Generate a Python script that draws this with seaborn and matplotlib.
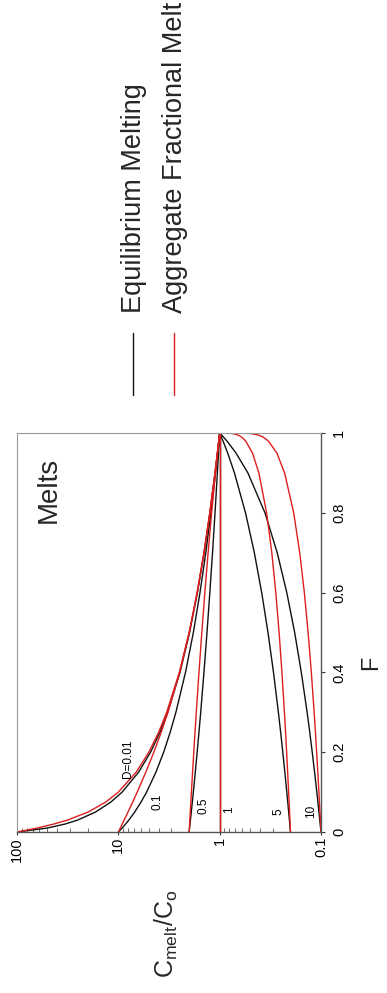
import matplotlib
matplotlib.use("Agg")
import matplotlib.pyplot as plt
from matplotlib.lines import Line2D
from matplotlib.ticker import LogLocator, NullFormatter
import pandas as pd
import seaborn as sns

# ---------------- data ----------------
F = [0, 0.01, 0.02, 0.03, 0.05, 0.075, 0.1, 0.15, 0.2, 0.25, 0.3, 0.4, 0.5,
     0.6, 0.7, 0.8, 0.9, 0.95, 0.98, 0.99, 0.995, 0.999, 1.0]

D_values = ["0.01", "0.1", "0.5", "1", "5", "10"]

eq_001 = [100, 50.25, 33.56, 25.19, 16.81, 11.87, 9.174, 6.309, 4.808, 3.883, 3.257, 2.463, 1.980,
          1.656, 1.422, 1.247, 1.110, 1.052, 1.020, 1.010, 1.005, 1.001, 1.0]
eq_01 = [10, 9.174, 8.475, 7.874, 6.897, 5.970, 5.263, 4.255, 3.571, 3.077, 2.703, 2.174, 1.818,
         1.563, 1.370, 1.220, 1.099, 1.047, 1.018, 1.009, 1.0045, 1.001, 1.0]
eq_05 = [2, 1.980, 1.961, 1.942, 1.905, 1.860, 1.818, 1.739, 1.667, 1.600, 1.538, 1.429, 1.333,
         1.250, 1.176, 1.111, 1.053, 1.026, 1.010, 1.005, 1.0025, 1.0005, 1.0]
eq_1 = [1, 1, 1, 1, 1, 1, 1, 1, 1, 1, 1, 1, 1, 1, 1, 1, 1, 1, 1, 1, 1, 1, 1]
eq_5 = [0.2, 0.2016, 0.2033, 0.2049, 0.2083, 0.2128, 0.2174, 0.2273, 0.2381, 0.25, 0.2632, 0.2941,
        0.3333, 0.3846, 0.4545, 0.5556, 0.7143, 0.8333, 0.9259, 0.9615, 0.9804, 0.996, 1.0]
eq_10 = [0.1, 0.1009, 0.1018, 0.1028, 0.1047, 0.1072, 0.1099, 0.1156, 0.1220, 0.1290, 0.1370, 0.1563,
         0.1818, 0.2174, 0.2703, 0.3571, 0.5263, 0.6897, 0.8475, 0.9174, 0.9569, 0.9911, 1.0]

fr_001 = [100, 63.40, 43.37, 31.75, 19.88, 13.33, 10.00, 6.667, 5.000, 4.000, 3.333, 2.500, 2.000,
          1.667, 1.429, 1.250, 1.111, 1.053, 1.020, 1.010, 1.005, 1.001, 1.0]
fr_01 = [10, 9.562, 9.146, 8.753, 8.025, 7.219, 6.513, 5.354, 4.463, 3.775, 3.239, 2.485, 1.998,
         1.667, 1.429, 1.250, 1.111, 1.053, 1.020, 1.010, 1.005, 1.001, 1.0]
fr_05 = [2, 1.99, 1.98, 1.97, 1.95, 1.925, 1.9, 1.85, 1.8, 1.75, 1.7, 1.6, 1.5,
         1.4, 1.3, 1.2, 1.1, 1.05, 1.02, 1.01, 1.005, 1.001, 1.0]
fr_1 = [1, 1, 1, 1, 1, 1, 1, 1, 1, 1, 1, 1, 1, 1, 1, 1, 1, 1, 1, 1, 1, 1, 1]
fr_5 = [0.2, 0.2008, 0.2016, 0.2024, 0.2041, 0.2063, 0.2085, 0.2132, 0.2182, 0.2236, 0.2295, 0.2428,
        0.2589, 0.2791, 0.3057, 0.3440, 0.4100, 0.4744, 0.5538, 0.6080, 0.6567, 0.7496, 1.0]
fr_10 = [0.1, 0.10045, 0.10091, 0.10138, 0.10232, 0.10355, 0.10481, 0.10748, 0.11034, 0.11343,
         0.11680, 0.1245, 0.13393, 0.14593, 0.16205, 0.18583, 0.22852, 0.27249, 0.33037, 0.37277,
         0.41337, 0.49931, 1.0]

models = ["Equilibrium Melting", "Aggregate Fractional Melt"]
curve_labels = ["D=0.01", "0.1", "0.5", "1", "5", "10"]
x_tick_values = [100, 10, 1, 0.1]
x_tick_labels = ["100", "10", "1", "0.1"]
y_tick_values = [0, 0.2, 0.4, 0.6, 0.8, 1.0]
y_tick_labels = ["0", "0.2", "0.4", "0.6", "0.8", "1"]

# ---------------- build long table ----------------
rows = []
for model, curves in ((models[0], [eq_001, eq_01, eq_05, eq_1, eq_5, eq_10]),
                      (models[1], [fr_001, fr_01, fr_05, fr_1, fr_5, fr_10])):
    for d, vals in zip(D_values, curves):
        for f, c in zip(F, vals):
            rows.append({"model": model, "D": d, "F": f, "C": c})
df = pd.DataFrame(rows)

# ---------------- style ----------------
sns.set_theme(style="white")
plt.rcParams["font.family"] = ["Liberation Sans", "DejaVu Sans"]
plt.rcParams["mathtext.default"] = "regular"

BLACK = "#111111"
RED = "#dc1e1e"

fig = plt.figure(figsize=(3.87, 9.93), dpi=100)
ax = fig.add_axes([0.0439, 0.1621, 0.7855, 0.4018])

sns.lineplot(data=df, x="C", y="F", hue="model", hue_order=models, units="D",
             estimator=None, sort=False, palette={models[0]: BLACK, models[1]: RED},
             linewidth=1.0, legend=False, ax=ax)

ax.set_xscale("log")
ax.set_xlim(100, 0.1)
ax.set_ylim(0, 1)

ax.set_xticks(x_tick_values)
ax.set_xticklabels(x_tick_labels, rotation=90)
ax.xaxis.set_minor_locator(LogLocator(base=10, subs=range(2, 10)))
ax.xaxis.set_minor_formatter(NullFormatter())

ax.yaxis.tick_right()
ax.set_yticks(y_tick_values)
ax.set_yticklabels(y_tick_labels, rotation=90, va="center")

ax.tick_params(axis="x", which="major", direction="out", length=2, width=0.8,
               pad=1.5, labelsize=10.5, colors="#333333", labelcolor="black", bottom=True)
ax.tick_params(axis="x", which="minor", direction="in", length=3, width=0.6,
               colors="#555555", bottom=True)
ax.tick_params(axis="y", which="major", direction="out", length=3, width=0.8,
               pad=5, labelsize=10.5, colors="#333333", labelcolor="black", right=True, left=False)

for s in ["left", "top"]:
    ax.spines[s].set_color("#9a9a9a")
    ax.spines[s].set_linewidth(0.8)
for s in ["right", "bottom"]:
    ax.spines[s].set_color("#555555")
    ax.spines[s].set_linewidth(1.0)

# axis titles
ax.set_xlabel(r"$\mathregular{C_{melt}/C_o}$", rotation=90, fontsize=18)
ax.xaxis.set_label_coords(0.493, -0.2556)
ax.xaxis.label.set_ha("center")
ax.xaxis.label.set_va("center")

ax.yaxis.set_label_position("right")
ax.set_ylabel("F", rotation=90, fontsize=17)
ax.yaxis.set_label_coords(1.165, 0.4236)
ax.yaxis.label.set_ha("center")
ax.yaxis.label.set_va("center")

# curve labels
label_pos = [(8.03, 0.183), (4.15, 0.075), (1.43, 0.065), (0.81, 0.055), (0.26, 0.05), (0.1255, 0.053)]
for txt, (cx, fy) in zip(curve_labels, label_pos):
    ax.text(cx, fy, txt, rotation=90, ha="center", va="center", fontsize=8.5, color="black")

ax.text(0.105, 0.857, "Melts", transform=ax.transAxes, rotation=90,
        ha="center", va="center", fontsize=20)

# legend (rotated, drawn manually)
for xf, col, name in ((0.3437, BLACK, models[0]), (0.4496, RED, models[1])):
    fig.add_artist(Line2D([xf, xf], [0.6022, 0.6647], color=col, lw=1.0,
                          transform=fig.transFigure))
    fig.text(xf + 0.002, 0.6848, name, rotation=90, ha="center", va="bottom", fontsize=19.5)

fig.savefig("out.png", dpi=100)
